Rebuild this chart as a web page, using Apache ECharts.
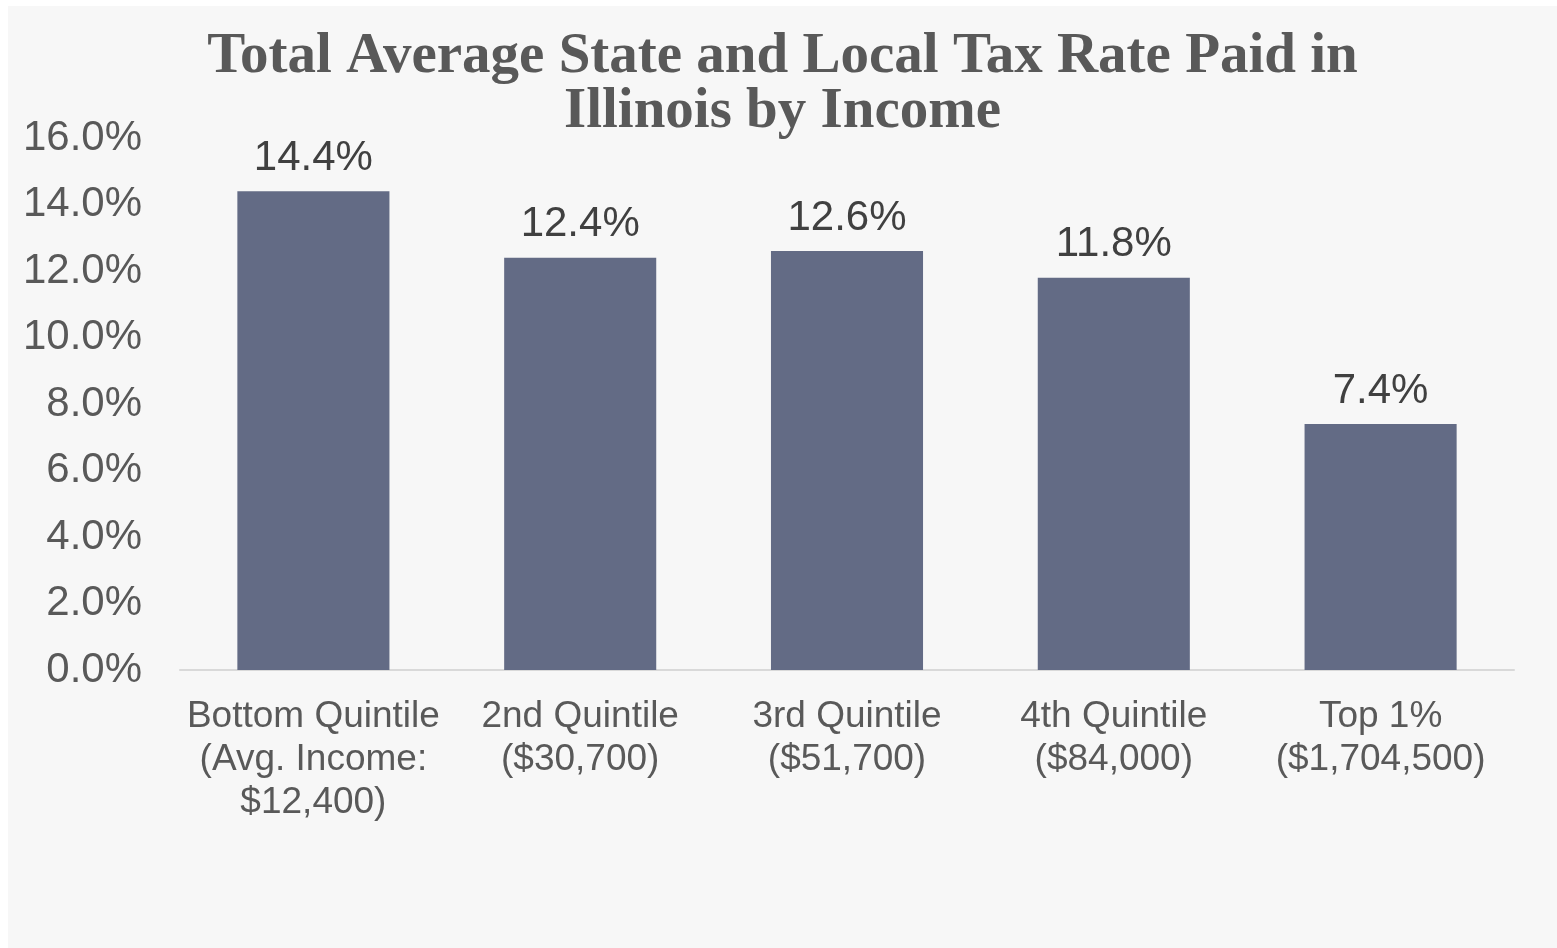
<!DOCTYPE html>
<html>
<head>
<meta charset="utf-8">
<script src="https://cdn.jsdelivr.net/npm/echarts@6/dist/echarts.min.js"></script>
<style>
  html, body { margin: 0; padding: 0; background: #ffffff; }
  #chart { position: absolute; left: 8px; top: 6px; width: 1549px; height: 942px; background: #f7f7f7; }
</style>
</head>
<body>
<div id="chart"></div>
<script>
// Income groups and their average state and local tax rate (%)
const categories = [
  'Bottom Quintile\n(Avg. Income:\n$12,400)',
  '2nd Quintile\n($30,700)',
  '3rd Quintile\n($51,700)',
  '4th Quintile\n($84,000)',
  'Top 1%\n($1,704,500)'
];
const taxRates = [14.4, 12.4, 12.6, 11.8, 7.4];
const axisMin = 0;
const axisMax = 16;
const axisStep = 2;

const chart = echarts.init(document.getElementById('chart'));
chart.setOption({
  backgroundColor: '#f7f7f7',
  title: {
    text: 'Total Average State and Local Tax Rate Paid in\nIllinois by Income',
    left: 'center',
    top: 24,
    padding: 0,
    textStyle: {
      fontFamily: 'Liberation Serif',
      fontWeight: 'bold',
      fontSize: 57,
      lineHeight: 55,
      color: '#595959',
      align: 'center'
    }
  },
  grid: { left: 172, right: 43, top: 132, bottom: 278, containLabel: false },
  xAxis: {
    type: 'category',
    data: categories,
    axisLine: { lineStyle: { color: '#d9d9d9', width: 2 } },
    axisTick: { show: false },
    axisLabel: {
      interval: 0,
      margin: 25,
      fontFamily: 'Liberation Sans',
      fontSize: 37,
      lineHeight: 43,
      color: '#595959'
    }
  },
  yAxis: {
    type: 'value',
    min: axisMin,
    max: axisMax,
    interval: axisStep,
    splitLine: { show: false },
    axisLine: { show: false },
    axisTick: { show: false },
    axisLabel: {
      margin: 38,
      fontFamily: 'Liberation Sans',
      fontSize: 42,
      color: '#595959',
      formatter: v => v.toFixed(1) + '%'
    }
  },
  series: [{
    type: 'bar',
    data: taxRates,
    barCategoryGap: '43%',
    itemStyle: { color: '#636b85' },
    label: {
      show: true,
      position: 'top',
      distance: 12,
      fontFamily: 'Liberation Sans',
      fontSize: 42,
      color: '#404040',
      formatter: p => p.value.toFixed(1) + '%'
    }
  }]
});
</script>
</body>
</html>
